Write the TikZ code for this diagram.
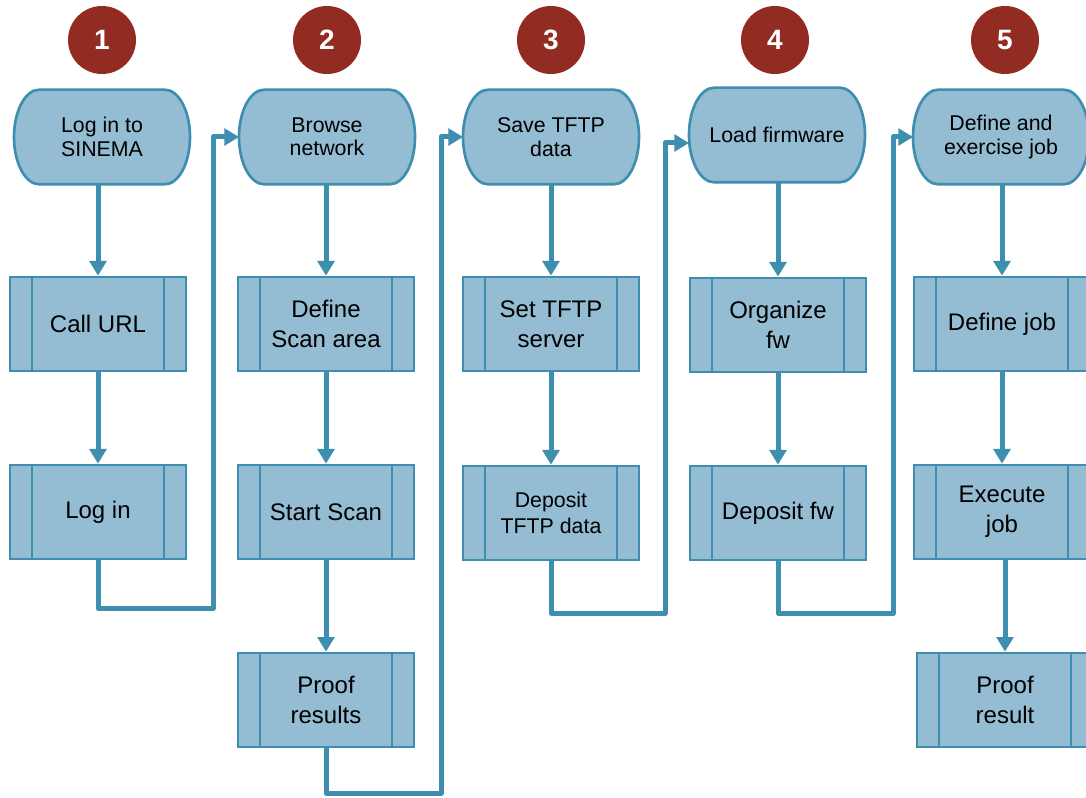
\documentclass[tikz,border=0pt]{standalone}
\usepackage{fontspec}
\setmainfont{Liberation Sans}
\usetikzlibrary{arrows.meta,backgrounds}
\definecolor{boxfill}{RGB}{148,188,211}
\definecolor{linec}{RGB}{62,142,176}
\definecolor{numred}{RGB}{146,43,33}
\tikzset{
 term/.style={rectangle, draw=none, fill=none, outer sep=0pt,
   minimum width=132pt, minimum height=71pt, align=center,
   font=\fontsize{16}{17.5}\selectfont, inner sep=0pt},
 termline/.style={draw=linec, line width=2pt, fill=boxfill},
 proc/.style={rectangle, draw=linec, line width=2pt, fill=boxfill,
   minimum width=132pt, minimum height=70.5pt, align=center,
   font=\fontsize{18}{22.5}\selectfont, inner sep=0pt,
   path picture={
     \draw[linec, line width=2pt] ([xshift=16.5pt]path picture bounding box.north west) -- ([xshift=16.5pt]path picture bounding box.south west);
     \draw[linec, line width=2pt] ([xshift=-16.5pt]path picture bounding box.north east) -- ([xshift=-16.5pt]path picture bounding box.south east);}},
 smalltext/.style={font=\fontsize{16}{20}\selectfont},
 num/.style={circle, fill=numred, minimum size=51pt, inner sep=0pt, text=white,
   font=\fontsize{21}{21}\bfseries\selectfont},
 flow/.style={draw=linec, line width=3.75pt, line join=round,
   -{Triangle[width=12.5pt,length=11pt]}}
}
\newcommand\myterminalshape[1]{%
  \begin{scope}[on background layer]
  \draw[termline] ([xshift=19pt]#1.north west) -- ([xshift=-19pt]#1.north east)
    arc[start angle=90,end angle=-90,x radius=19pt,y radius=35.5pt]
    -- ([xshift=19pt]#1.south west)
    arc[start angle=270,end angle=90,x radius=19pt,y radius=35.5pt] -- cycle;
  \end{scope}}
\begin{document}
\begin{tikzpicture}[x=0.75pt,y=-0.75pt]
\clip (0,0) rectangle (1086,798);
% numbers
\node[num] (n1) at (102,40) {1};
\node[num] (n2) at (327,40) {2};
\node[num] (n3) at (551,40) {3};
\node[num] (n4) at (775,40) {4};
\node[num] (n5) at (1005,40) {5};
% terminals
\node[term] (t1) at (102,137) {Log in to\\SINEMA};
\node[term] (t2) at (327,137) {Browse\\network};
\node[term] (t3) at (551,137) {Save TFTP\\data};
\node[term] (t4) at (777,135) {Load firmware};
\node[term] (t5) at (1001,137) {Define and\\exercise job};
\myterminalshape{t1}
\myterminalshape{t2}
\myterminalshape{t3}
\myterminalshape{t4}
\myterminalshape{t5}
% processes
\node[proc] (p11) at (98,324) {Call URL};
\node[proc] (p12) at (98,512) {Log in};
\node[proc] (p21) at (326,324) {Define\\Scan area};
\node[proc] (p22) at (326,512) {Start Scan};
\node[proc] (p23) at (326,700) {Proof\\results};
\node[proc] (p31) at (551,324) {Set TFTP\\server};
\node[proc,smalltext] (p32) at (551,513) {Deposit\\TFTP data};
\node[proc] (p41) at (778,325) {Organize\\fw};
\node[proc] (p42) at (778,513) {Deposit fw};
\node[proc] (p51) at (1002,324) {Define job};
\node[proc] (p52) at (1002,512) {Execute\\job};
\node[proc] (p53) at (1005,700) {Proof\\result};
% vertical flows
\draw[flow] (t1.south -| p11.north) -- (p11.north);
\draw[flow] (p11.south) -- (p12.north);
\draw[flow] (t2.south -| p21.north) -- (p21.north);
\draw[flow] (p21.south) -- (p22.north);
\draw[flow] (p22.south) -- (p23.north);
\draw[flow] (t3.south -| p31.north) -- (p31.north);
\draw[flow] (p31.south) -- (p32.north);
\draw[flow] (t4.south -| p41.north) -- (p41.north);
\draw[flow] (p41.south) -- (p42.north);
\draw[flow] (t5.south -| p51.north) -- (p51.north);
\draw[flow] (p51.south) -- (p52.north);
\draw[flow] (p52.south -| p53.north) -- (p53.north);
% links between columns
\coordinate (b1) at (213,608);
\coordinate (b2) at (441,793);
\coordinate (b3) at (665,613);
\coordinate (b4) at (893,613);
\draw[flow] (p12.south) |- (b1) |- (t2.west);
\draw[flow] (p23.south) |- (b2) |- (t3.west);
\draw[flow] (p32.south) |- (b3) |- ([yshift=-6pt]t4.west);
\draw[flow] (p42.south) |- (b4) |- (t5.west);
\end{tikzpicture}
\end{document}
